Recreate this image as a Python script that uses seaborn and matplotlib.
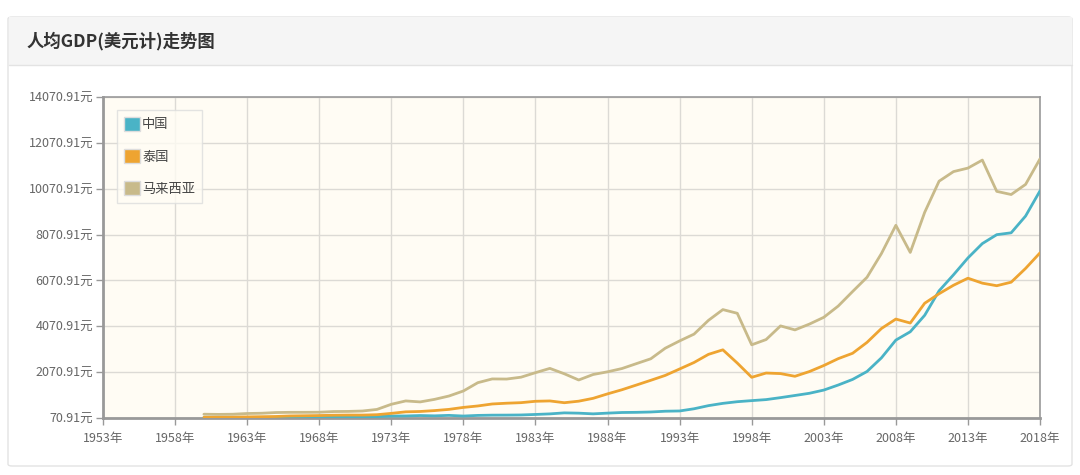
import numpy as np
import pandas as pd
import matplotlib
matplotlib.use("Agg")
import matplotlib.pyplot as plt
import seaborn as sns
from matplotlib.patches import Patch, FancyBboxPatch, Rectangle
from matplotlib.lines import Line2D

years = list(range(1960, 2019))
china = [89.5, 75.8, 70.9, 74.3, 85.5, 98.5, 104.3, 96.6, 91.5, 100.1,
         113.2, 118.7, 131.9, 157.1, 160.1, 178.3, 165.4, 185.4, 156.4, 183.9,
         194.8, 197.1, 203.3, 225.4, 250.7, 294.5, 281.9, 251.8, 283.5, 310.9,
         317.9, 333.1, 366.5, 377.4, 473.5, 609.7, 709.4, 781.7, 828.6, 873.3,
         959.4, 1053.1, 1148.5, 1288.6, 1508.7, 1753.4, 2099.2, 2694.0, 3468.3, 3832.2,
         4550.5, 5618.1, 6316.9, 7050.6, 7678.6, 8066.9, 8147.9, 8879.4, 9976.7]
thailand = [100.8, 107.9, 113.9, 118.5, 127.0, 137.3, 160.4, 168.8, 178.1, 191.8,
            198.4, 197.9, 214.6, 272.9, 339.8, 355.0, 394.1, 447.0, 533.0, 596.0,
            682.6, 716.0, 740.0, 800.0, 815.0, 737.5, 804.2, 928.9, 1123.0, 1303.4,
            1508.3, 1715.3, 1927.6, 2208.8, 2491.8, 2846.4, 3043.9, 2467.2, 1845.9, 2032.1,
            2007.7, 1890.0, 2096.0, 2359.1, 2658.7, 2893.7, 3369.1, 3973.8, 4385.6, 4212.4,
            5076.3, 5491.2, 5860.9, 6168.3, 5951.9, 5840.0, 5994.2, 6595.0, 7273.6]
malaysia = [235.7, 228.4, 235.6, 267.0, 278.4, 309.4, 318.0, 318.9, 322.7, 352.5,
            357.7, 375.7, 444.2, 669.0, 815.6, 772.4, 883.9, 1029.7, 1249.4, 1611.2,
            1774.9, 1769.5, 1851.2, 2048.2, 2234.5, 2000.1, 1728.8, 1968.0, 2085.5, 2228.2,
            2441.7, 2653.6, 3113.4, 3432.9, 3728.9, 4329.4, 4798.6, 4637.9, 3263.3, 3492.4,
            4087.7, 3913.4, 4165.7, 4461.8, 4952.2, 5587.0, 6209.1, 7243.5, 8474.6, 7292.5,
            9040.6, 10399.4, 10817.4, 10970.2, 11319.1, 9955.2, 9817.8, 10259.3, 11373.2]
series_names = ["中国", "泰国", "马来西亚"]
colors = ["#4ab3c6", "#eea431", "#c8ba8a"]
x_ticks = list(range(1953, 2019, 5))
y_ticks = [70.91 + 2000 * i for i in range(8)]
title = "人均GDP(美元计)走势图"

df = pd.concat([
    pd.DataFrame({"year": years, "gdp": china, "country": series_names[0]}),
    pd.DataFrame({"year": years, "gdp": thailand, "country": series_names[1]}),
    pd.DataFrame({"year": years, "gdp": malaysia, "country": series_names[2]}),
])

sns.set_theme(style="white")
plt.rcParams['font.family'] = ['Noto Sans CJK SC', 'DejaVu Sans']

W, H = 1080, 475
fig = plt.figure(figsize=(W / 100, H / 100), dpi=100)
fig.patch.set_facecolor("white")

# card
card = FancyBboxPatch((8 / W, 1 - 466 / H), 1064 / W, 449 / H,
                      boxstyle="round,pad=0,rounding_size=0.004",
                      transform=fig.transFigure, facecolor="white",
                      edgecolor="#e3e3e3", linewidth=1.0, zorder=-3)
fig.patches.append(card)
header = Rectangle((8.5 / W, 1 - 65 / H), 1063 / W, 48 / H, transform=fig.transFigure,
                   facecolor="#f5f5f5", edgecolor="none", zorder=-2)
fig.patches.append(header)
fig.lines.append(Line2D([8.5 / W, 1071.5 / W], [1 - 65 / H, 1 - 65 / H],
                        transform=fig.transFigure, color="#e3e3e3", lw=1.0, zorder=-1))
fig.text(27 / W, 1 - 41 / H, title, fontsize=12.5, fontweight="bold",
         color="#333333", va="center", ha="left")

ax = fig.add_axes([103 / W, 1 - 418 / H, 937 / W, 321 / H])
ax.set_zorder(5)
ax.set_facecolor("#fffcf4")
sns.lineplot(data=df, x="year", y="gdp", hue="country", palette=colors,
             hue_order=series_names, linewidth=2.0, ax=ax, legend=False, zorder=3)

ax.set_xlim(1953, 2018)
ax.set_ylim(70.91, 14070.91)
ax.set_xticks(x_ticks)
ax.set_xticklabels([f"{y}年" for y in x_ticks])
ax.set_yticks(y_ticks)
ax.set_yticklabels([f"{v:.2f}元" for v in y_ticks])
ax.grid(True, color="#dcdad5", linewidth=1.0)
ax.set_axisbelow(True)
ax.set_xlabel("")
ax.set_ylabel("")
for s in ax.spines.values():
    s.set_color("#999999")
    s.set_linewidth(1.2)
ax.spines["left"].set_linewidth(2.0)
ax.spines["bottom"].set_linewidth(2.0)
ax.tick_params(axis="both", colors="#999999", labelcolor="#666666", labelsize=9,
               length=5, width=1, direction="out", left=True, bottom=True)
ax.tick_params(axis="x", pad=5)
ax.tick_params(axis="y", pad=2)

handles = [Patch(facecolor=c, edgecolor="#dddddd", label=n) for c, n in zip(colors, series_names)]
leg = ax.legend(handles=handles, loc="upper left", bbox_to_anchor=(14 / 937, 1 - 13 / 321),
                frameon=True, fontsize=9.5, handlelength=1.2, handleheight=1.2,
                handletextpad=0.15, labelspacing=1.35, borderpad=0.55,
                borderaxespad=0, fancybox=False)
leg.get_frame().set_edgecolor("#dddddd")
leg.get_frame().set_facecolor("#fffcf4")
leg.get_frame().set_linewidth(1.0)
for t in leg.get_texts():
    t.set_color("#444444")

fig.savefig("out.png", dpi=100)
